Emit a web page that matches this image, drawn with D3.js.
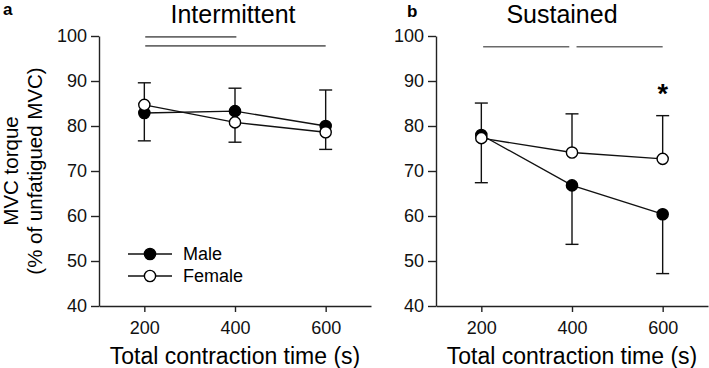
<!DOCTYPE html>
<html>
<head>
<meta charset="utf-8">
<script src="https://cdn.jsdelivr.net/npm/d3@7"></script>
<style>
	body { margin: 0; background: #fff; }
	svg { display: block; font-family: Arial, "Liberation Sans", sans-serif; }
	.axis path, .axis line { stroke: #222; stroke-width: 1.4px; }
	.axis text { font-size: 18px; fill: #111; }
</style>
</head>
<body>
<svg id="chart" width="709" height="368"></svg>
<script>
var times = [200, 400, 600];
var yTicks = [40, 50, 60, 70, 80, 90, 100];
var xTicks = [200, 400, 600];

// intermittent
var interMale = [82.9, 83.3, 80.0];
var interMaleLow = [76.7, 76.4, 74.8];
var interFemale = [84.7, 80.8, 78.6];
var interFemaleHigh = [89.6, 88.4, 88.0];
var interSig = [[202, 403, 99.8], [202, 600, 97.8]];

// sustained
var sustMale = [78.0, 66.8, 60.4];
var sustMaleLow = [67.4, 53.7, 47.2];
var sustFemale = [77.3, 74.1, 72.7];
var sustFemaleHigh = [85.1, 82.7, 82.3];
var sustSig = [[204, 394, 97.6], [410, 600, 97.6]];
var sustStar = [[600, 88]];

var svg = d3.select("#chart");

function drawPanel(opts) {
	var x = d3.scaleLinear().domain([100, 700]).range(opts.xRange),
		y = d3.scaleLinear().domain([40, 100]).range([306, 36]),
		g = svg.append("g");

	g.append("g")
		.attr("class", "axis")
		.attr("transform", "translate(" + opts.xRange[0] + ",0)")
		.call(d3.axisLeft(y).tickValues(yTicks).tickSize(8).tickSizeOuter(0).tickPadding(4));

	g.append("g")
		.attr("class", "axis")
		.attr("transform", "translate(0,306)")
		.call(d3.axisBottom(x).tickValues(xTicks).tickSize(6).tickSizeOuter(0).tickPadding(9));

	// significance bars
	g.selectAll("line.sig")
		.data(opts.sig)
		.enter().append("line")
		.attr("class", "sig")
		.attr("x1", function(d) { return x(d[0]); })
		.attr("x2", function(d) { return x(d[1]); })
		.attr("y1", function(d) { return y(d[2]); })
		.attr("y2", function(d) { return y(d[2]); })
		.style("stroke", "#6a6a6a")
		.style("stroke-width", 1.6);

	// error bars: male down, female up
	var bars = [];
	times.forEach(function(t, i) {
		bars.push({ t: t, v: opts.male[i], e: opts.maleLow[i] });
		bars.push({ t: t, v: opts.female[i], e: opts.femaleHigh[i] });
	});
	var eb = g.selectAll("g.err").data(bars).enter().append("g").attr("class", "err");
	eb.append("line")
		.attr("x1", function(d) { return x(d.t); })
		.attr("x2", function(d) { return x(d.t); })
		.attr("y1", function(d) { return y(d.v); })
		.attr("y2", function(d) { return y(d.e); });
	eb.append("line")
		.attr("x1", function(d) { return x(d.t) - 6.5; })
		.attr("x2", function(d) { return x(d.t) + 6.5; })
		.attr("y1", function(d) { return y(d.e); })
		.attr("y2", function(d) { return y(d.e); });
	eb.selectAll("line").style("stroke", "#111").style("stroke-width", 1.4);

	var line = d3.line()
		.x(function(d, i) { return x(times[i]); })
		.y(function(d) { return y(d); });

	[opts.male, opts.female].forEach(function(series) {
		g.append("path")
			.attr("d", line(series))
			.style("fill", "none")
			.style("stroke", "#111")
			.style("stroke-width", 1.4);
	});
	[opts.male, opts.female].forEach(function(series, k) {
		g.selectAll("circle.s" + k)
			.data(series)
			.enter().append("circle")
			.attr("class", "s" + k)
			.attr("cx", function(d, i) { return x(times[i]); })
			.attr("cy", function(d) { return y(d); })
			.attr("r", 5.6)
			.style("fill", k === 0 ? "#000" : "#fff")
			.style("stroke", "#000")
			.style("stroke-width", 1.4);
	});

	if (opts.star) {
		g.selectAll("text.star")
			.data(opts.star)
			.enter().append("text")
			.attr("class", "star")
			.attr("x", function(d) { return x(d[0]); })
			.attr("y", function(d) { return y(d[1]) + 13; })
			.attr("text-anchor", "middle")
			.style("font-size", "27px")
			.style("font-weight", "bold")
			.text("*");
	}

	g.append("text")
		.attr("x", (opts.xRange[0] + opts.xRange[1]) / 2)
		.attr("y", 364)
		.attr("text-anchor", "middle")
		.style("font-size", "23px")
		.text("Total contraction time (s)");

	g.append("text")
		.attr("x", opts.titleX)
		.attr("y", 23)
		.attr("text-anchor", "middle")
		.style("font-size", "25px")
		.text(opts.title);

	g.append("text")
		.attr("x", opts.letterX)
		.attr("y", opts.letterY)
		.style("font-size", "17px")
		.style("font-weight", "bold")
		.text(opts.letter);

	return g;
}

drawPanel({
	xRange: [99, 371], male: interMale, maleLow: interMaleLow,
	female: interFemale, femaleHigh: interFemaleHigh, sig: interSig,
	title: "Intermittent", titleX: 233, letter: "a", letterX: 3, letterY: 15
});
drawPanel({
	xRange: [436, 708], male: sustMale, maleLow: sustMaleLow,
	female: sustFemale, femaleHigh: sustFemaleHigh, sig: sustSig, star: sustStar,
	title: "Sustained", titleX: 562, letter: "b", letterX: 407, letterY: 17
});

// y title
var yt = svg.append("g").attr("transform", "translate(0,171) rotate(-90)");
yt.append("text").attr("y", 18).attr("text-anchor", "middle").style("font-size", "20.5px").text("MVC torque");
yt.append("text").attr("y", 42).attr("text-anchor", "middle").style("font-size", "20.5px").text("(% of unfatigued MVC)");

// legend
var legend = svg.append("g").selectAll("g")
	.data(["Male", "Female"])
	.enter().append("g")
	.attr("transform", function(d, i) { return "translate(128," + (254 + i * 22) + ")"; });
legend.append("line").attr("x1", 0).attr("x2", 44).style("stroke", "#111").style("stroke-width", 1.4);
legend.append("circle").attr("cx", 22).attr("r", 5.6)
	.style("fill", function(d, i) { return i === 0 ? "#000" : "#fff"; })
	.style("stroke", "#000").style("stroke-width", 1.4);
legend.append("text").attr("x", 55).attr("dy", "0.36em").style("font-size", "18px").text(function(d) { return d; });
</script>
</body>
</html>
